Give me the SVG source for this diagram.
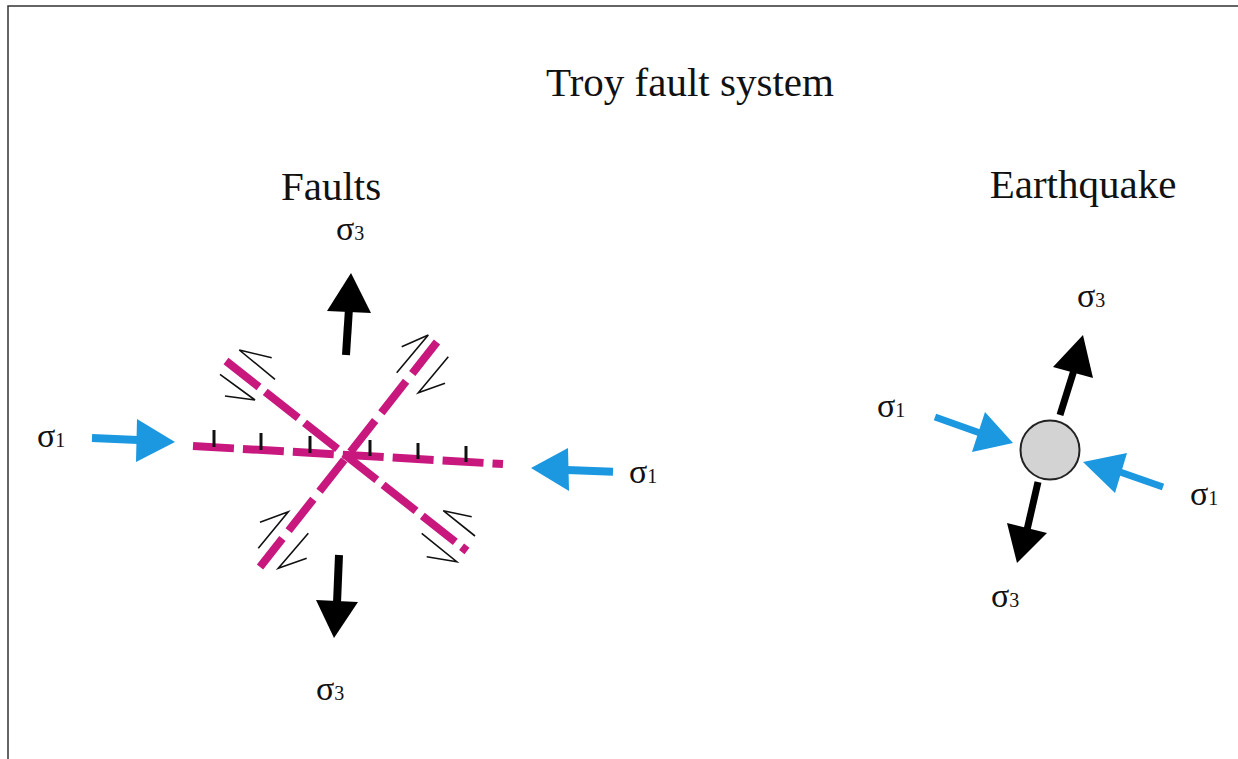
<svg xmlns="http://www.w3.org/2000/svg" width="1238" height="759" viewBox="0 0 1238 759">
<style>
.t{font-family:"Liberation Serif","Times New Roman",serif;fill:#111}
.big{font-size:41px}
.sig{font-size:34px}
.sub{font-size:20px}
.fault{stroke:#c8187e;stroke-width:8;fill:none}
.tick{stroke:#111;stroke-width:3}
.half{stroke:#111;stroke-width:1.6;fill:none;stroke-linejoin:miter}
.bk{stroke:#000;fill:none}
.bl{stroke:#1b98e0;fill:none}
.bkh{fill:#000}
.blh{fill:#1b98e0}
</style>
<rect width="1238" height="759" fill="#fff"/>
<path d="M8,759 V6 H1238" fill="none" stroke="#333" stroke-width="1.5"/>
<g id="title"><text class="t big" x="690" y="96" text-anchor="middle">Troy fault system</text></g>
<g id="faults-label"><text class="t big" x="331" y="200" text-anchor="middle">Faults</text></g>
<g id="earthquake-label"><text class="t big" x="1083" y="198" text-anchor="middle">Earthquake</text></g>
<g id="fault-system">
<line class="fault" x1="193" y1="446" x2="503" y2="464" stroke-dasharray="41 9"/>
<line class="fault" x1="226" y1="361" x2="467" y2="551" stroke-dasharray="42 8"/>
<line class="fault" x1="437" y1="342" x2="260" y2="567" stroke-dasharray="40 10"/>
<g class="tick">
<line x1="214" y1="447" x2="214" y2="430"/>
<line x1="261" y1="450" x2="261" y2="433"/>
<line x1="310" y1="453" x2="310" y2="436"/>
<line x1="370" y1="456" x2="370" y2="440"/>
<line x1="418" y1="459" x2="418" y2="443"/>
<line x1="466" y1="462" x2="466" y2="446"/>
</g>
<g class="half">
<polyline points="271.7,357.7 239.3,350 275,379.3"/>
<polyline points="220,374.3 255,400 225,396"/>
<polyline points="401.7,346.7 428.3,335 396.7,372.7"/>
<polyline points="448.3,356.7 418.3,392.7 445,383.3"/>
<polyline points="260,522.3 288.3,511.7 258.3,548.3"/>
<polyline points="308.3,533.3 278.3,568.3 306.7,558.3"/>
<polyline points="471.7,516.7 443.3,510.7 475,536"/>
<polyline points="421.7,533.3 456.7,561.7 426.7,556.7"/>
</g>
</g>
<g id="quake"><circle cx="1050" cy="450" r="29.5" fill="#d3d3d3" stroke="#222" stroke-width="2"/></g>
<g id="connectors">
<line class="bk" x1="346" y1="355" x2="349" y2="308" stroke-width="8"/>
<polygon class="bkh" points="351,273 327,311 371,313"/>
<line class="bk" x1="339" y1="555" x2="337" y2="603" stroke-width="8"/>
<polygon class="bkh" points="316,600 358,602 334,638"/>
<line class="bl" x1="92" y1="438" x2="138" y2="440" stroke-width="8"/>
<polygon class="blh" points="137,419 136,462 175,442"/>
<line class="bl" x1="613" y1="471.7" x2="567" y2="470" stroke-width="8"/>
<polygon class="blh" points="568,448 569,491 531,468"/>
<line class="bk" x1="1060" y1="415" x2="1074" y2="370" stroke-width="7"/>
<polygon class="bkh" points="1053,367 1093,378 1083,335"/>
<line class="bk" x1="1038" y1="482" x2="1027" y2="530" stroke-width="7"/>
<polygon class="bkh" points="1007,523 1047,533 1017,563"/>
<line class="bl" x1="935" y1="417" x2="980" y2="433" stroke-width="7"/>
<polygon class="blh" points="985,412 972,452 1013,443"/>
<line class="bl" x1="1163" y1="487" x2="1120" y2="472" stroke-width="7"/>
<polygon class="blh" points="1127,453 1115,493 1083,462"/>
</g>
<g id="labels">
<text class="t sig" x="336" y="240">σ<tspan class="sub">3</tspan></text>
<text class="t sig" x="316" y="700">σ<tspan class="sub">3</tspan></text>
<text class="t sig" x="37" y="447">σ<tspan class="sub">1</tspan></text>
<text class="t sig" x="629" y="483">σ<tspan class="sub">1</tspan></text>
<text class="t sig" x="1077" y="307">σ<tspan class="sub">3</tspan></text>
<text class="t sig" x="877" y="417">σ<tspan class="sub">1</tspan></text>
<text class="t sig" x="1190" y="505">σ<tspan class="sub">1</tspan></text>
<text class="t sig" x="991" y="607">σ<tspan class="sub">3</tspan></text>
</g>
</svg>
